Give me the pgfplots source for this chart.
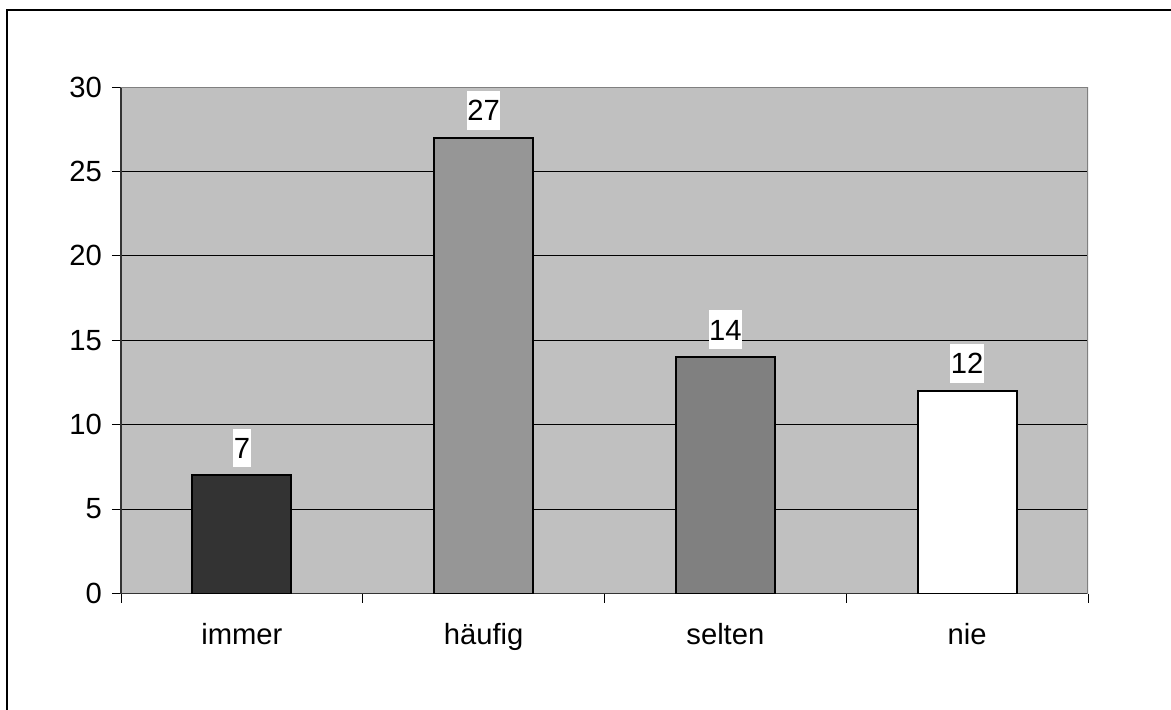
\documentclass[border=0pt]{standalone}
\usepackage{pgfplots}
\pgfplotsset{compat=1.18}
\usepackage{fontspec}
\setmainfont{Liberation Sans}
\definecolor{plotbg}{HTML}{C0C0C0}
\definecolor{barA}{HTML}{333333}
\definecolor{barB}{HTML}{969696}
\definecolor{barC}{HTML}{808080}
\definecolor{frameg}{HTML}{808080}
\begin{document}
\begin{tikzpicture}
\useasboundingbox (0,0) rectangle (585.5pt,354.5pt);
\fill[white] (0,0) rectangle (585.5pt,354.5pt);
\draw[black, line width=1pt] (3.5pt,-5pt) -- (3.5pt,349.5pt) -- (590pt,349.5pt);
\begin{axis}[
  at={(60.5pt,57.75pt)}, anchor=south west,
  scale only axis, width=483.5pt, height=253.25pt,
  xmin=0.5, xmax=4.5, ymin=0, ymax=30,
  ytick={0,5,...,30},
  xtick={0.5,1.5,2.5,3.5,4.5}, xticklabels={},
  extra x ticks={1,2,3,4},
  extra x tick labels={immer,häufig,selten,nie},
  extra x tick style={major tick length=0pt, grid=none},
  axis x line*=bottom, axis y line*=left,
  axis line style={-, color=black!80, line width=0.7pt},
  tick align=outside,
  major tick length=4.5pt,
  tick style={black, line width=0.5pt},
  ymajorgrids,
  major grid style={black, line width=0.5pt},
  axis background/.style={fill=plotbg},
  /pgf/number format/assume math mode=true,
  every tick label/.append style={font=\fontsize{14.6}{17}\selectfont},
  xticklabel style={text height=10.5pt, text depth=3pt, yshift=-11.5pt},
  yticklabel style={xshift=-1.5pt},
  ybar, bar width=49.5pt, bar shift=0pt,
  every axis plot/.append style={draw=black, line width=1pt},
  nodes near coords,
  every node near coord/.append style={font=\fontsize{14.6}{17}\selectfont, fill=white, anchor=south, yshift=3.5pt, inner xsep=0.3pt, inner ysep=4.5pt, text height=10.4pt, text depth=0pt, text=black},
]
\addplot[fill=barA] coordinates {(1,7)};
\addplot[fill=barB] coordinates {(2,27)};
\addplot[fill=barC] coordinates {(3,14)};
\addplot[fill=white] coordinates {(4,12)};
\draw[frameg, line width=1pt] (rel axis cs:0,1) -- (rel axis cs:1,1) -- (rel axis cs:1,0);
\end{axis}
\end{tikzpicture}
\end{document}
